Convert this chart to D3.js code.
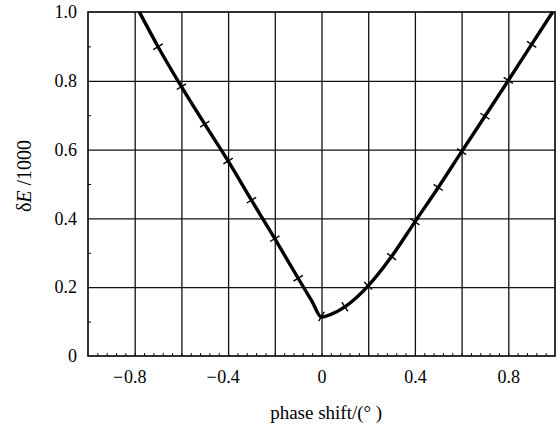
<!DOCTYPE html>
<meta charset="utf-8">
<script src="https://d3js.org/d3.v7.min.js"></script>
<style>
body { margin: 0; background: #fff; }
svg text { font-family: "Liberation Serif", "DejaVu Serif", serif; fill: #000; }
.grid line { stroke: #111; stroke-width: 1.3; }
.grid path { display: none; }
.minor line { stroke: #111; stroke-width: 1; }
.minor path { display: none; }
.lab path, .lab line { display: none; }
</style>
<body>
<div id="chart"></div>
<script>
// ---------- data ----------
// points of the fitted curve (ends run up to the top frame)
var curveX = [-0.78, -0.7, -0.6, -0.5, -0.4, -0.3, -0.2, -0.1, -0.04, 0.0, 0.04, 0.1, 0.2, 0.3, 0.4, 0.5, 0.6, 0.7, 0.8, 0.9, 0.99];
var curveY = [1.0, 0.899, 0.783, 0.674, 0.567, 0.453, 0.341, 0.226, 0.158, 0.113, 0.121, 0.143, 0.204, 0.289, 0.390, 0.490, 0.594, 0.697, 0.801, 0.906, 1.0];
// measured points (cross marks)
var markX = [-0.7, -0.6, -0.5, -0.4, -0.3, -0.2, -0.1, 0.0, 0.1, 0.2, 0.3, 0.4, 0.5, 0.6, 0.7, 0.8, 0.9];
var markY = [0.899, 0.783, 0.674, 0.567, 0.453, 0.341, 0.226, 0.115, 0.143, 0.204, 0.289, 0.390, 0.490, 0.594, 0.697, 0.801, 0.906];

var xGrid = [-0.8, -0.6, -0.4, -0.2, 0, 0.2, 0.4, 0.6, 0.8];
var yGrid = [0.2, 0.4, 0.6, 0.8];
var xLabels = [-0.8, -0.4, 0, 0.4, 0.8];
var yLabels = [0, 0.2, 0.4, 0.6, 0.8, 1.0];
var xMinor = d3.range(-24, 25).map(function(i) { return i * 0.04; });
var yMinor = [0.1, 0.3, 0.5, 0.7, 0.9];

// ---------- layout ----------
var margin = {top: 12, right: 3, bottom: 71, left: 88},
    width = 558 - margin.left - margin.right,
    height = 427 - margin.top - margin.bottom;
var serif = '"Liberation Serif", "DejaVu Serif", serif';

var svg = d3.select("#chart").append("svg")
    .attr("width", 558)
    .attr("height", 427);

var g = svg.append("g")
    .attr("transform", "translate(" + margin.left + "," + margin.top + ")");

var x = d3.scaleLinear().domain([-1, 1]).range([0, width]);
var y = d3.scaleLinear().domain([0, 1]).range([height, 0]);

//-----------------------------GRID-----------------------------//
g.append("g")
    .attr("class", "grid")
    .attr("transform", "translate(0," + height + ")")
    .call(d3.axisBottom(x).tickValues(xGrid).tickSize(-height).tickFormat(""));

g.append("g")
    .attr("class", "grid")
    .call(d3.axisLeft(y).tickValues(yGrid).tickSize(-width).tickFormat(""));

// minor ticks, pointing inwards
g.append("g")
    .attr("class", "minor")
    .attr("transform", "translate(0," + height + ")")
    .call(d3.axisBottom(x).tickValues(xMinor).tickSize(-3).tickFormat(""));

g.append("g")
    .attr("class", "minor")
    .call(d3.axisLeft(y).tickValues(yMinor).tickSize(-3).tickFormat(""));

// frame
g.append("rect")
    .attr("width", width)
    .attr("height", height)
    .attr("fill", "none")
    .attr("stroke", "#000")
    .attr("stroke-width", 1.6);

//-----------------------------LABELS---------------------------//
var xl = g.append("g")
    .attr("class", "lab")
    .attr("transform", "translate(0," + height + ")")
    .call(d3.axisBottom(x).tickValues(xLabels).tickSize(0).tickPadding(14)
        .tickFormat(function(d) { return d === 0 ? "0" : Math.abs(d).toFixed(1); }))
    .attr("font-family", serif)
    .attr("font-size", 18);
xl.selectAll("text")
    .style("font-family", serif)
    .style("font-size", "18px")
    .attr("dy", "0.71em");
xl.selectAll(".tick")
    .filter(function(d) { return d < 0; })
    .append("text")
    .attr("x", -12)
    .attr("y", 14)
    .attr("dy", "0.71em")
    .attr("text-anchor", "end")
    .style("font-family", serif)
    .style("font-size", "18px")
    .text("\u2212");

var yl = g.append("g")
    .attr("class", "lab")
    .call(d3.axisLeft(y).tickValues(yLabels).tickSize(0).tickPadding(11)
        .tickFormat(function(d) { return d === 0 ? "0" : d.toFixed(1); }))
    .attr("font-family", serif)
    .attr("font-size", 18);
yl.selectAll("text")
    .style("font-family", serif)
    .style("font-size", "18px");

svg.append("text")
    .attr("x", margin.left + x(0.02))
    .attr("y", 419)
    .attr("text-anchor", "middle")
    .style("font-family", serif)
    .style("font-size", "19px")
    .text("phase shift/(\u00b0 )");

var yt = svg.append("text")
    .attr("transform", "translate(31," + 176 + ") rotate(-90)")
    .attr("text-anchor", "middle")
    .style("font-family", serif)
    .style("font-size", "20px");
yt.append("tspan").text("\u03b4");
yt.append("tspan").style("font-style", "italic").text("E");
yt.append("tspan").text(" /1000");

//----------------------------CURVE-----------------------------//
var pts = curveX.map(function(d, i) { return [x(d), y(curveY[i])]; });
var line = d3.line().curve(d3.curveMonotoneX);

g.append("path")
    .attr("d", line(pts))
    .attr("fill", "none")
    .attr("stroke", "#000")
    .attr("stroke-width", 3.4)
    .attr("stroke-linejoin", "round");

// cross marks: short strokes perpendicular to the curve
var mpts = markX.map(function(d, i) { return [x(d), y(markY[i])]; });
var half = 5.5;
g.append("g").selectAll("line")
    .data(mpts)
    .enter()
    .append("line")
    .each(function(p, i) {
        var a = mpts[Math.max(0, i - 1)], b = mpts[Math.min(mpts.length - 1, i + 1)];
        var dx = b[0] - a[0], dy = b[1] - a[1];
        var len = Math.sqrt(dx * dx + dy * dy);
        var nx = -dy / len, ny = dx / len;
        d3.select(this)
            .attr("x1", p[0] - nx * half).attr("y1", p[1] - ny * half)
            .attr("x2", p[0] + nx * half).attr("y2", p[1] + ny * half);
    })
    .attr("stroke", "#000")
    .attr("stroke-width", 1.4);
</script>
</body>
